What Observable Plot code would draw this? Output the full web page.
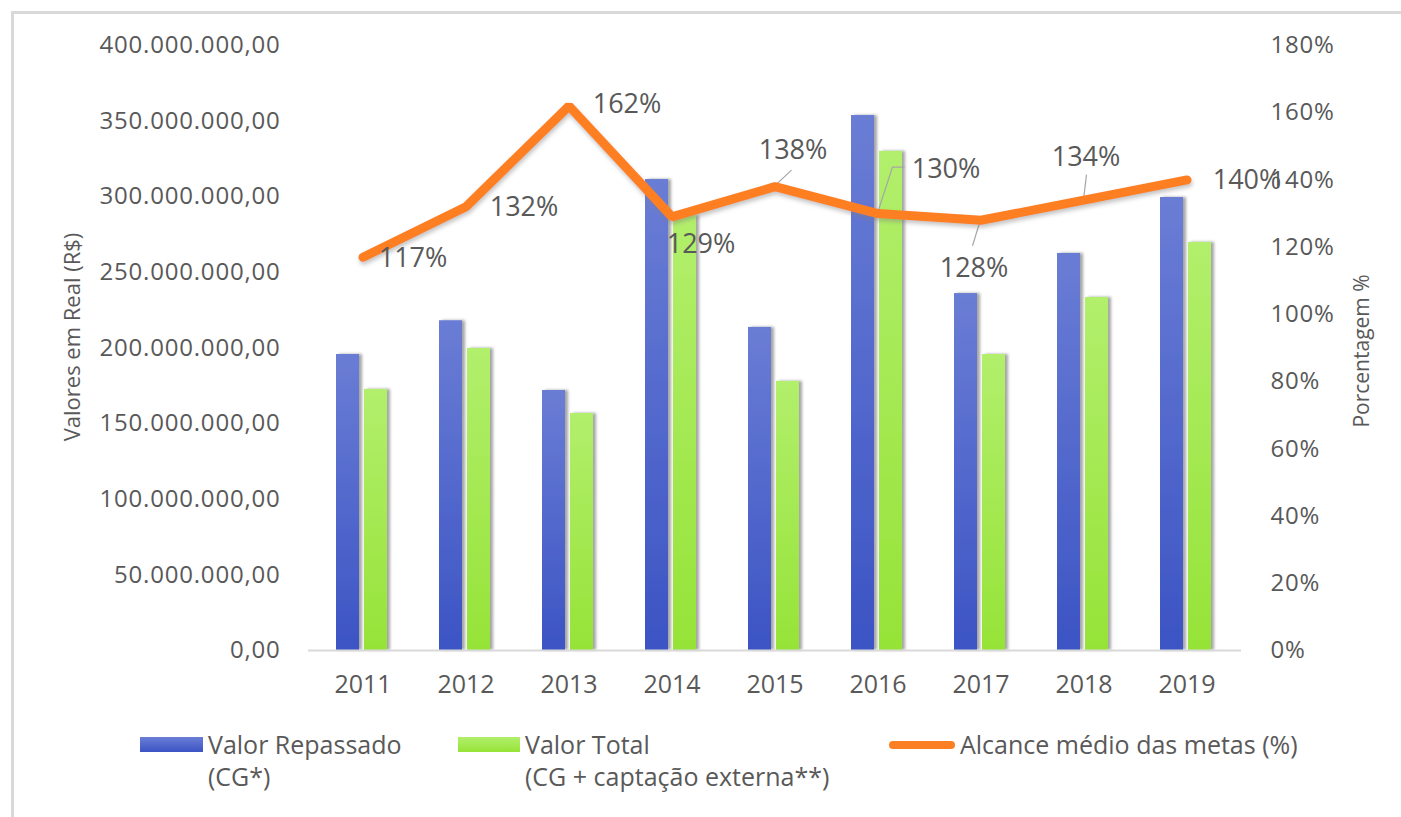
<!DOCTYPE html>
<html>
<head>
<meta charset="utf-8">
<script src="https://cdn.jsdelivr.net/npm/d3@7"></script>
<script src="https://cdn.jsdelivr.net/npm/@observablehq/plot@0.6"></script>
<style>
  html, body { margin: 0; padding: 0; background: #fff; }
  #wrap { position: relative; width: 1401px; height: 817px; overflow: hidden; font-family: "Open Sans", sans-serif; color: #595959; }
  #border { position: absolute; left: 11px; top: 11px; right: -10px; bottom: -10px; border-left: 3px solid #d9d9d9; border-top: 3px solid #d9d9d9; pointer-events: none; }
  #chart svg { display: block; }
  #legend { position: relative; height: 107px; font-size: 25px; }
  .item { position: absolute; line-height: 32px; white-space: nowrap; }
  .sw { position: absolute; }
</style>
</head>
<body>
<div id="wrap">
  <div id="chart"></div>
  <div id="legend"></div>
  <div id="border"></div>
</div>
<script>
// ---- data ----
const years = ["2011", "2012", "2013", "2014", "2015", "2016", "2017", "2018", "2019"];
const valorRepassado = [195.7e6, 218.0e6, 171.9e6, 311.4e6, 213.6e6, 353.7e6, 236.0e6, 262.5e6, 299.5e6];
const valorTotal = [172.6e6, 199.7e6, 156.7e6, 287.6e6, 177.9e6, 330.0e6, 195.7e6, 233.4e6, 269.8e6];
const alcanceMedio = [117, 132, 162, 129, 138, 130, 128, 134, 140];
const leftTicks = [0, 50e6, 100e6, 150e6, 200e6, 250e6, 300e6, 350e6, 400e6];
const rightTicks = [0, 20, 40, 60, 80, 100, 120, 140, 160, 180];
const seriesNames = ["Valor Repassado", "Valor Total", "Alcance médio das metas (%)"];
const seriesSubNames = ["(CG*)", "(CG + captação externa**)", ""];
const yLabelLeft = "Valores em Real (R$)";
const yLabelRight = "Porcentagem %";

// ---- label placement (pixel offsets from each point; styling config) ----
const labelOffsets = [[50, 1], [58, 1], [58, -2], [29, 27], [18, -36], [68, -44], [-7, 48], [2, -43], [60, 0]];
const leaderPaths = {
  "2015": [[0, 0], [17, -16]],
  "2016": [[0, 0], [15, -46], [27, -46]],
  "2017": [[0, 0], [-8, 26]],
  "2018": [[0, 0], [3, -25]]
};

const leftMax = 400e6, rightMax = 180;
const pctToY = p => p / rightMax * leftMax;
const br = d3.formatLocale({decimal: ",", thousands: ".", grouping: [3], currency: ["R$", ""]});
const fmtMoney = br.format(",.2f");

const table = years.map((year, i) => ({
  year, repassado: valorRepassado[i], total: valorTotal[i], alcance: alcanceMedio[i]
}));

const ink = "#595959";

const leaders = (index, scales) => {
  const g = d3.create("svg:g").attr("fill", "none").attr("stroke", "#a6a6a6").attr("stroke-width", 1.2);
  const bw = scales.x.bandwidth ? scales.x.bandwidth() : 0;
  for (const d of table) {
    const p = leaderPaths[d.year];
    if (!p) continue;
    const cx = scales.x(d.year) + bw / 2, cy = scales.y(pctToY(d.alcance));
    g.append("path").attr("d", "M" + p.map(([dx, dy]) => (cx + dx) + "," + (cy + dy)).join("L"));
  }
  return g.node();
};

const chart = Plot.plot({
  width: 1401,
  height: 710,
  marginLeft: 308,
  marginRight: 160,
  marginTop: 45,
  marginBottom: 60,
  style: {fontFamily: "Open Sans, sans-serif", color: ink, background: "transparent", overflow: "visible"},
  x: {type: "band", domain: years, padding: 0},
  y: {domain: [0, leftMax]},
  marks: [
    Plot.barY(table, {x: "year", y: "repassado", fill: "url(#gradBlue)", insetLeft: 25, insetRight: 55}),
    Plot.barY(table, {x: "year", y: "total", fill: "url(#gradGreen)", insetLeft: 53, insetRight: 27}),
    Plot.ruleY([0], {stroke: "#d9d9d9", strokeWidth: 2}),
    Plot.axisY(leftTicks, {anchor: "left", tickSize: 0, tickPadding: 28, tickFormat: fmtMoney, fontSize: 24, label: null}),
    Plot.axisY(rightTicks.map(pctToY), {anchor: "right", tickSize: 0, tickPadding: 29,
      tickFormat: v => Math.round(v / leftMax * rightMax) + "%", fontSize: 24, label: null}),
    Plot.axisX({tickSize: 0, tickPadding: 25, fontSize: 25, label: null}),
    Plot.text([yLabelLeft], {frameAnchor: "left", text: d => d, rotate: -90, textAnchor: "middle",
      dx: -236, dy: -11, fontSize: 22, fill: ink}),
    Plot.text([yLabelRight], {frameAnchor: "right", text: d => d, rotate: -90, textAnchor: "middle",
      dx: 121, dy: 3, fontSize: 21, fill: ink}),
    leaders,
    Plot.line(table, {x: "year", y: d => pctToY(d.alcance), stroke: "#fd7f23", strokeWidth: 9,
      strokeLinecap: "round", strokeLinejoin: "miter"}),
    ...table.map((d, i) => Plot.text([d], {
      x: "year", y: r => pctToY(r.alcance), text: r => r.alcance + "%",
      dx: labelOffsets[i][0], dy: labelOffsets[i][1], fontSize: 27, fill: ink
    }))
  ]
});

// gradients + shadows
const svg = d3.select(chart);
const defs = svg.insert("defs", ":first-child");
const gb = defs.append("linearGradient").attr("id", "gradBlue").attr("x1", 0).attr("y1", 0).attr("x2", 0).attr("y2", 1);
gb.append("stop").attr("offset", "0%").attr("stop-color", "#6a7dd5");
gb.append("stop").attr("offset", "100%").attr("stop-color", "#3c54c4");
const gg = defs.append("linearGradient").attr("id", "gradGreen").attr("x1", 0).attr("y1", 0).attr("x2", 0).attr("y2", 1);
gg.append("stop").attr("offset", "0%").attr("stop-color", "#b2ef6c");
gg.append("stop").attr("offset", "100%").attr("stop-color", "#96e338");
const sh = defs.append("filter").attr("id", "shadow").attr("x", "-20%").attr("y", "-5%").attr("width", "150%").attr("height", "110%");
sh.append("feDropShadow").attr("dx", 3).attr("dy", 0).attr("stdDeviation", 1.5).attr("flood-color", "#7f7f7f").attr("flood-opacity", 0.7);
const sh2 = defs.append("filter").attr("id", "lineShadow").attr("x", "-5%").attr("y", "-20%").attr("width", "110%").attr("height", "140%");
sh2.append("feDropShadow").attr("dx", 1).attr("dy", 3).attr("stdDeviation", 2).attr("flood-color", "#7f7f7f").attr("flood-opacity", 0.45);
svg.selectAll('g[aria-label="bar"]').attr("filter", "url(#shadow)");
svg.selectAll('g[aria-label="line"]').attr("filter", "url(#lineShadow)");
svg.selectAll('g[aria-label="y-axis tick label"]').style("letter-spacing", "0.8px");

document.getElementById("chart").appendChild(chart);

// legend
const legend = d3.select("#legend");
const legendItems = [
  {sw: {left: 140, top: 27, width: 63, height: 15, background: "linear-gradient(#6a7dd5, #3c54c4)"}, textLeft: 208},
  {sw: {left: 458, top: 27, width: 62, height: 15, background: "linear-gradient(#b2ef6c, #96e338)"}, textLeft: 525},
  {sw: {left: 889, top: 31, width: 66, height: 8, background: "#fd7f23", borderRadius: "4px"}, textLeft: 960}
];
legendItems.forEach((it, i) => {
  const s = legend.append("div").attr("class", "sw");
  s.style("left", it.sw.left + "px").style("top", it.sw.top + "px").style("width", it.sw.width + "px")
   .style("height", it.sw.height + "px").style("background", it.sw.background);
  if (it.sw.borderRadius) s.style("border-radius", it.sw.borderRadius);
  const t = legend.append("div").attr("class", "item").style("left", it.textLeft + "px").style("top", "18px");
  t.append("div").text(seriesNames[i]);
  if (seriesSubNames[i]) t.append("div").text(seriesSubNames[i]);
});
</script>
</body>
</html>
